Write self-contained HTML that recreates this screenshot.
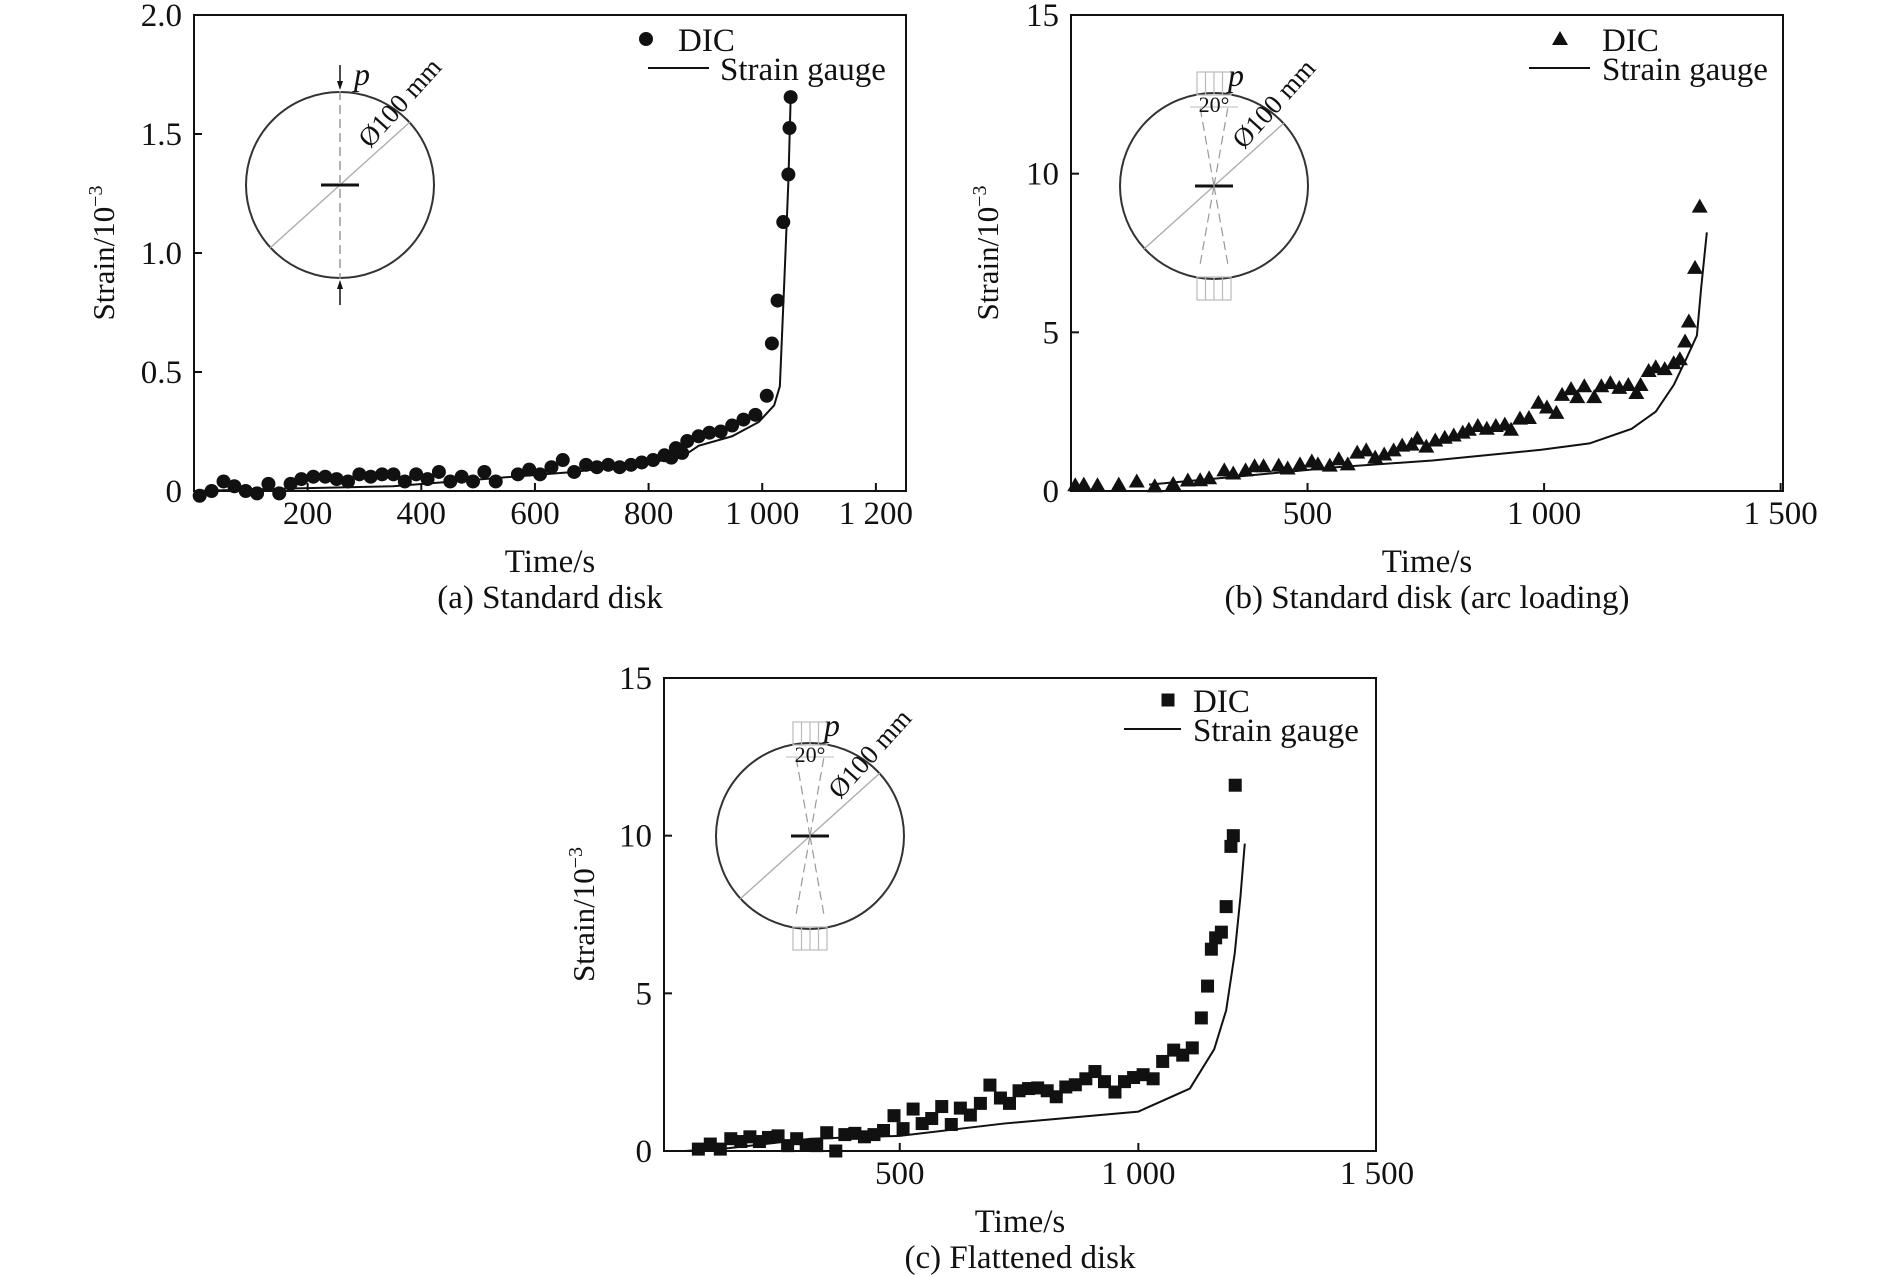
<!DOCTYPE html>
<html><head><meta charset="utf-8">
<style>
html,body{margin:0;padding:0;background:#fff;}
svg{display:block;font-family:"Liberation Serif",serif;}
</style></head>
<body>
<svg id="fig" width="1890" height="1277" viewBox="0 0 1890 1277" xmlns="http://www.w3.org/2000/svg"></svg>
<script>
// ---------- Panel (a) data ----------
const aDicTime=[10,31,52,71,91,111,131,150,170,189,210,231,251,271,291,311,331,351,371,391,411,431,451,471,491,511,531,570,590,609,629,649,669,690,709,729,749,769,788,808,828,840,848,859,868,888,907,927,947,967,988,1008,1017,1027,1037,1046,1048,1050];
const aDicStrain=[-0.02,0,0.04,0.02,0,-0.01,0.03,-0.01,0.03,0.05,0.06,0.06,0.05,0.04,0.07,0.06,0.07,0.07,0.04,0.07,0.05,0.08,0.04,0.06,0.04,0.08,0.04,0.07,0.09,0.07,0.10,0.13,0.08,0.11,0.10,0.11,0.10,0.11,0.12,0.13,0.15,0.14,0.18,0.16,0.21,0.23,0.245,0.25,0.275,0.30,0.32,0.40,0.62,0.80,1.13,1.33,1.525,1.655];
const aGaugeTime=[0,160,350,509,667,773,857,888,947,994,1021,1031,1039,1046,1050];
const aGaugeStrain=[0,0.01,0.02,0.05,0.08,0.11,0.14,0.19,0.23,0.29,0.36,0.44,0.89,1.30,1.65];
const aXTicks=[200,400,600,800,1000,1200];
const aXTickLabels=["200","400","600","800","1 000","1 200"];
const aYTicks=[0,0.5,1.0,1.5,2.0];
const aYTickLabels=["0","0.5","1.0","1.5","2.0"];

// ---------- Panel (b) data ----------
const bDicTime=[9,27,56,101,139,177,216,247,273,292,324,343,369,388,407,439,458,484,509,522,547,566,585,605,624,643,662,682,700,720,732,751,770,790,809,828,841,860,879,898,917,930,949,968,988,1006,1026,1038,1057,1070,1085,1106,1121,1140,1159,1178,1195,1204,1221,1236,1255,1274,1287,1298,1306,1319,1329];
const bDicStrain=[0.18,0.2,0.18,0.2,0.3,0.15,0.22,0.33,0.34,0.4,0.65,0.55,0.65,0.78,0.78,0.8,0.71,0.84,0.93,0.84,0.8,1.0,0.84,1.21,1.28,1.05,1.15,1.28,1.43,1.46,1.65,1.4,1.59,1.68,1.75,1.84,1.93,2.05,1.96,2.05,2.09,1.93,2.28,2.3,2.78,2.63,2.46,3.03,3.21,2.96,3.3,2.96,3.3,3.4,3.25,3.34,3.09,3.34,3.78,3.9,3.84,4.03,4.15,4.71,5.34,7.03,8.96];
const bGaugeTime=[165,356,560,764,994,1096,1185,1236,1274,1300,1323,1332,1344];
const bGaugeStrain=[0.2,0.46,0.75,0.96,1.3,1.5,1.96,2.5,3.34,4.15,4.9,6.4,8.15];
const bXTicks=[500,1000,1500];
const bXTickLabels=["500","1 000","1 500"];
const bYTicks=[0,5,10,15];
const bYTickLabels=["0","5","10","15"];

// ---------- Panel (c) data ----------
const cDicTime=[78,103,124,146,167,186,206,225,245,265,284,304,326,347,366,385,406,426,446,466,488,507,528,547,567,588,608,627,648,669,689,711,730,750,770,789,809,828,848,868,890,909,929,951,971,990,1010,1031,1051,1074,1093,1113,1132,1145,1153,1162,1174,1184,1194,1199,1203];
const cDicStrain=[0.06,0.22,0.06,0.39,0.3,0.45,0.3,0.43,0.48,0.17,0.39,0.19,0.17,0.58,0,0.52,0.56,0.45,0.52,0.65,1.12,0.71,1.33,0.87,1.03,1.41,0.84,1.36,1.14,1.51,2.09,1.68,1.51,1.91,1.98,2.0,1.91,1.72,2.03,2.1,2.29,2.52,2.2,1.87,2.2,2.33,2.42,2.29,2.84,3.2,3.04,3.27,4.22,5.23,6.4,6.76,6.94,7.75,9.66,10.0,11.6];
const cGaugeTime=[50,142,314,500,718,1000,1108,1159,1184,1202,1214,1223];
const cGaugeStrain=[0,0.09,0.39,0.48,0.87,1.25,1.98,3.23,4.46,6.27,8.07,9.75];
const cXTicks=[500,1000,1500];
const cXTickLabels=["500","1 000","1 500"];
const cYTicks=[0,5,10,15];
const cYTickLabels=["0","5","10","15"];

const NS="http://www.w3.org/2000/svg";
const fig=document.getElementById('fig');
function mk(tag,attrs,parent,txt){const e=document.createElementNS(NS,tag);for(const k in attrs)e.setAttribute(k,attrs[k]);if(txt!==undefined)e.textContent=txt;(parent||fig).appendChild(e);return e;}
const FS=33;

function panel(o){
  const g=mk('g',{});
  
  
  const sx=v=>o.L+(v-o.x0)/(o.x1-o.x0)*(o.R-o.L);
  const sy=v=>o.B-(v-o.y0)/(o.y1-o.y0)*(o.B-o.T);
  const frame=mk('rect',{x:o.L,y:o.T,width:o.R-o.L,height:o.B-o.T,fill:'none',stroke:'#111','stroke-width':2},g);
  
  
  o.xt.forEach((v,i)=>{
    const x=sx(v);
    if(x<o.R-2) mk('line',{x1:x,x2:x,y1:o.B,y2:o.B-8,stroke:'#111','stroke-width':2},g);
    const t=mk('text',{x:x,y:o.B+33,'text-anchor':'middle','font-size':FS,fill:'#111'},g,o.xl[i]);
    
    
  });
  o.yt.forEach((v,i)=>{
    const y=sy(v);
    if(y>o.T+2 && y<o.B-2) mk('line',{x1:o.L,x2:o.L+8,y1:y,y2:y,stroke:'#111','stroke-width':2},g);
    const t=mk('text',{x:o.L-12,y:y+11,'text-anchor':'end','font-size':FS,fill:'#111'},g,o.yl[i]);
    
    
  });
  const pts=o.gt.map((t,i)=>sx(t)+','+sy(o.gs[i])).join(' ');
  const pl=mk('polyline',{points:pts,fill:'none',stroke:'#111','stroke-width':2},g);
  
  
  o.dt.forEach((t,i)=>{
    const x=sx(t),y=sy(o.ds[i]);
    let m;
    if(o.marker==='circle') m=mk('circle',{cx:x,cy:y,r:7,fill:'#111'},g);
    else if(o.marker==='tri') m=mk('polygon',{points:`${x},${y-8} ${x-8},${y+6} ${x+8},${y+6}`,fill:'#111'},g);
    else m=mk('rect',{x:x-6.5,y:y-6.5,width:13,height:13,fill:'#111'},g);
    
    
  });
  const yt=mk('text',{x:0,y:0,transform:`translate(${o.ytx},${(o.T+o.B)/2}) rotate(-90)`,'text-anchor':'middle','font-size':31,fill:'#111'},g);
  
  
  yt.textContent='Strain/10';
  mk('tspan',{dy:-12,'font-size':20},yt,'−3');
  const xt=mk('text',{x:(o.L+o.R)/2,y:o.B+81,'text-anchor':'middle','font-size':FS,fill:'#111'},g,'Time/s');
  
  
  const cap=mk('text',{x:(o.L+o.R)/2,y:o.B+117,'text-anchor':'middle','font-size':FS,fill:'#111'},g,o.caption);
  
  
  const lg=mk('g',{},g);
  
  
  const [mx,my,t1x,l1,l2,t2x]=o.leg;
  if(o.marker==='circle') mk('circle',{cx:mx,cy:my,r:7,fill:'#111'},lg);
  else if(o.marker==='tri') mk('polygon',{points:`${mx},${my-8} ${mx-8},${my+6} ${mx+8},${my+6}`,fill:'#111'},lg);
  else mk('rect',{x:mx-6.5,y:my-6.5,width:13,height:13,fill:'#111'},lg);
  mk('text',{x:t1x,y:my+12,'font-size':FS,fill:'#111'},lg,'DIC');
  mk('line',{x1:l1,x2:l2,y1:my+29,y2:my+29,stroke:'#111','stroke-width':2},lg);
  mk('text',{x:t2x,y:my+41,'font-size':FS,fill:'#111'},lg,'Strain gauge');
  inset(g,o.cx,o.cy,o.arc);
}

function inset(g,cx,cy,arc){
  const ig=mk('g',{},g);
  
  
  const r=94;
  mk('ellipse',{cx:cx,cy:cy,rx:r,ry:r-1,fill:'none',stroke:'#333','stroke-width':2},ig);
  const a=Math.PI/180*42;
  mk('line',{x1:cx-r*Math.cos(a),y1:cy+r*Math.sin(a),x2:cx+r*Math.cos(a),y2:cy-r*Math.sin(a),stroke:'#aaa','stroke-width':1.3},ig);
  mk('line',{x1:cx-19,x2:cx+19,y1:cy,y2:cy,stroke:'#111','stroke-width':3},ig);
  if(!arc){
    mk('line',{x1:cx,x2:cx,y1:cy-r,y2:cy+r,stroke:'#999','stroke-width':1.5,'stroke-dasharray':'9,5'},ig);
    mk('line',{x1:cx,x2:cx,y1:cy-r-26,y2:cy-r-4,stroke:'#111','stroke-width':1.5},ig);
    mk('polygon',{points:`${cx-3},${cy-r-10} ${cx+3},${cy-r-10} ${cx},${cy-r-1}`,fill:'#111'},ig);
    mk('line',{x1:cx,x2:cx,y1:cy+r+4,y2:cy+r+26,stroke:'#111','stroke-width':1.5},ig);
    mk('polygon',{points:`${cx-3},${cy+r+10} ${cx+3},${cy+r+10} ${cx},${cy+r+1}`,fill:'#111'},ig);
  } else {
    [-1,1].forEach(s=>{
      mk('line',{x1:cx,y1:cy,x2:cx+s*14,y2:cy-r+15,stroke:'#999','stroke-width':1.2,'stroke-dasharray':'9,5'},ig);
      mk('line',{x1:cx,y1:cy,x2:cx+s*14,y2:cy+r-15,stroke:'#999','stroke-width':1.2,'stroke-dasharray':'9,5'},ig);
    });
    [[cy-r-20,cy-r+3],[cy+r-3,cy+r+20]].forEach(([y1,y2])=>{
      mk('rect',{x:cx-17,y:y1,width:34,height:y2-y1,fill:'none',stroke:'#bbb','stroke-width':1.2},ig);
      for(let k=-1;k<=1;k++) mk('line',{x1:cx+k*8.5,x2:cx+k*8.5,y1:y1,y2:y2,stroke:'#bbb','stroke-width':1.2},ig);
    });
    mk('line',{x1:cx-24,x2:cx+24,y1:cy-r+15,y2:cy-r+15,stroke:'#bbb','stroke-width':1},ig);
    mk('text',{x:cx,y:cy-r+20,'text-anchor':'middle','font-size':22,fill:'#111'},ig,'20°');
  }
  mk('text',{x:cx+14,y:cy-r-6,'font-size':32,'font-style':'italic',fill:'#111'},ig,'p');
  mk('text',{x:0,y:0,transform:`translate(${cx+30},${cy-36}) rotate(-48)`,'font-size':27,fill:'#111'},ig,'Ø100 mm');
}

panel({name:'panel-a',L:194,R:906,T:15,B:491,x0:0,x1:1253,y0:0,y1:2.0,
  xt:aXTicks,xl:aXTickLabels,yt:aYTicks,yl:aYTickLabels,
  dt:aDicTime,ds:aDicStrain,gt:aGaugeTime,gs:aGaugeStrain,marker:'circle',
  ytx:114,caption:'(a) Standard disk',leg:[646,39,678,648,709,720],cx:340,cy:185,arc:false});
panel({name:'panel-b',L:1071,R:1783,T:15,B:491,x0:0,x1:1505,y0:0,y1:15,
  xt:bXTicks,xl:bXTickLabels,yt:bYTicks,yl:bYTickLabels,
  dt:bDicTime,ds:bDicStrain,gt:bGaugeTime,gs:bGaugeStrain,marker:'tri',
  ytx:998,caption:'(b) Standard disk (arc loading)',leg:[1560,39,1602,1529,1590,1602],cx:1214,cy:186,arc:true});
panel({name:'panel-c',L:664,R:1376,T:678,B:1151,x0:6,x1:1498,y0:0,y1:15,
  xt:cXTicks,xl:cXTickLabels,yt:cYTicks,yl:cYTickLabels,
  dt:cDicTime,ds:cDicStrain,gt:cGaugeTime,gs:cGaugeStrain,marker:'sq',
  ytx:594,caption:'(c) Flattened disk',leg:[1168,700,1193,1124,1181,1193],cx:810,cy:836,arc:true});
</script>
</body></html>
